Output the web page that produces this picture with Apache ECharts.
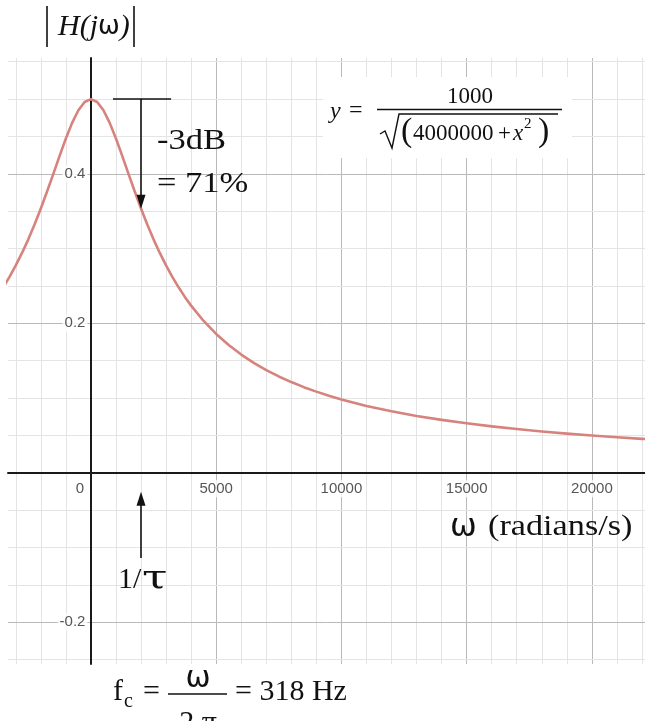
<!DOCTYPE html>
<html>
<head>
<meta charset="utf-8">
<title>|H(jω)| low-pass magnitude response</title>
<script src="https://cdn.jsdelivr.net/npm/echarts@6/dist/echarts.min.js"></script>
<style>
  html, body { margin: 0; padding: 0; background: #ffffff; }
  #chart { width: 645px; height: 721px; }
</style>
</head>
<body>
<div id="chart"></div>
<script>
// Magnitude response samples: angular frequency (rad/s) and |H(jω)|
const omega = [
  -3500, -3250, -3000, -2750, -2500, -2250, -2000, -1750, -1500, -1250, -1000, -750, -500, -250,
  0, 250, 500, 750, 1000, 1250, 1500, 1750, 2000, 2250, 2500, 2750, 3000, 3250, 3500, 3750,
  4000, 4500, 5000, 5500, 6000, 6500, 7000, 7500, 8000, 8500, 9000, 9500, 10000,
  11000, 12000, 13000, 14000, 15000, 16000, 17000, 18000, 19000, 20000, 21000, 22000, 23000
];
const magnitude = [
  0.2481, 0.2621, 0.2774, 0.2941, 0.3123, 0.3322, 0.3536, 0.3763, 0.4000, 0.4240, 0.4472, 0.4682, 0.4851, 0.4961,
  0.5000, 0.4961, 0.4851, 0.4682, 0.4472, 0.4240, 0.4000, 0.3763, 0.3536, 0.3322, 0.3123, 0.2941, 0.2774, 0.2621, 0.2481, 0.2353,
  0.2236, 0.2031, 0.1857, 0.1709, 0.1581, 0.1470, 0.1374, 0.1288, 0.1213, 0.1145, 0.1085, 0.1030, 0.0981,
  0.0894, 0.0822, 0.0760, 0.0707, 0.0661, 0.0620, 0.0584, 0.0552, 0.0523, 0.0498, 0.0474, 0.0453, 0.0433
];

// Tick labels shown on each axis
const xTickLabels = [0, 5000, 10000, 15000, 20000];
const yTickLabels = [-0.2, 0.2, 0.4];

// Cutoff point (1/τ) and the peak it is measured from
const cutoffOmega = 2000;
const peakMag = 0.5;
const cutoffMag = 0.3536;

// Visible window
const X_MIN = -3310, X_MAX = 22120;
const Y_MIN = -0.256, Y_MAX = 0.555;

// Grid spacing (minor / major)
const X_MINOR = 1000, X_MAJOR = 5000;
const Y_MINOR = 0.05, Y_MAJOR = 0.2;

const SERIF = '"Liberation Serif", "Times New Roman", serif';
const SANS = '"Liberation Sans", Arial, sans-serif';

function gridLines() {
  const items = [];
  const minor = { color: '#e4e4e4', width: 1, type: 'solid' };
  const major = { color: '#b9b9b9', width: 1, type: 'solid' };
  for (let v = Math.ceil(X_MIN / X_MINOR) * X_MINOR; v <= X_MAX; v += X_MINOR) {
    if (v === 0) continue;
    items.push({ xAxis: v, lineStyle: v % X_MAJOR === 0 ? major : minor });
  }
  for (let k = Math.ceil(Y_MIN / Y_MINOR); k * Y_MINOR <= Y_MAX; k++) {
    if (k === 0) continue;
    const v = +(k * Y_MINOR).toFixed(3);
    const isMajor = Math.abs(v / Y_MAJOR - Math.round(v / Y_MAJOR)) < 1e-6;
    items.push({ yAxis: v, lineStyle: isMajor ? major : minor });
  }
  return items;
}

const tickLabelStyle = {
  show: true, fontFamily: SANS, fontSize: 15, color: '#2a2a2a',
  backgroundColor: '#ffffff', padding: [1, 2]
};

function txt(x, y, text, font, extra) {
  return Object.assign({
    type: 'text', x: x, y: y, z: 20,
    style: { text: text, font: font, fill: '#111', align: 'left', verticalAlign: 'middle' }
  }, extra || {});
}
function ctxt(x, y, text, font) {
  return { type: 'text', x: x, y: y, z: 20,
           style: { text: text, font: font, fill: '#111', align: 'center', verticalAlign: 'middle' } };
}
function seg(x1, y1, x2, y2, w) {
  return { type: 'line', z: 20, shape: { x1: x1, y1: y1, x2: x2, y2: y2 },
           style: { stroke: '#111', lineWidth: w || 1.5 } };
}

const chart = echarts.init(document.getElementById('chart'), null, { renderer: 'canvas' });

const option = {
  animation: false,
  backgroundColor: '#ffffff',
  grid: { left: 8, right: 0, top: 58, bottom: 57, containLabel: false, outerBoundsMode: 'none' },
  xAxis: {
    type: 'value', min: X_MIN, max: X_MAX, z: 2,
    axisLine: { onZero: true, lineStyle: { color: '#1a1a1a', width: 2 } },
    axisTick: { show: false },
    splitLine: { show: false },
    axisLabel: { show: false }
  },
  yAxis: {
    type: 'value', min: Y_MIN, max: Y_MAX, z: 2,
    axisLine: { onZero: true, lineStyle: { color: '#1a1a1a', width: 2 } },
    axisTick: { show: false },
    splitLine: { show: false },
    axisLabel: { show: false }
  },
  series: [
    {
      // background grid
      type: 'line', data: [], silent: true, z: 1,
      markLine: {
        silent: true, z: 1, animation: false,
        symbol: ['none', 'none'],
        label: { show: false },
        emphasis: { disabled: true },
        data: gridLines()
      }
    },
    {
      // tick labels along the frequency axis, sitting under the zero line
      type: 'scatter', silent: true, z: 5,
      symbolSize: 1, itemStyle: { color: 'rgba(0,0,0,0)' },
      label: Object.assign({ position: 'bottom', distance: 7,
        formatter: function (p) { return String(p.value[0]); } }, tickLabelStyle),
      data: xTickLabels.map(function (v) {
        return v === 0 ? { value: [v, 0], label: { offset: [-11, 0] } } : { value: [v, 0] };
      })
    },
    {
      // tick labels along the magnitude axis, left of the zero line
      type: 'scatter', silent: true, z: 5,
      symbolSize: 1, itemStyle: { color: 'rgba(0,0,0,0)' },
      label: Object.assign({ position: 'left', distance: 3,
        formatter: function (p) { return String(p.value[1]); } }, tickLabelStyle),
      data: yTickLabels.map(function (v) { return [0, v]; })
    },
    {
      type: 'line', name: '|H(jω)|', z: 3,
      data: omega.map(function (w, i) { return [w, magnitude[i]]; }),
      showSymbol: false, smooth: false,
      lineStyle: { color: '#d6837e', width: 2.6, join: 'round' },
      markLine: {
        silent: true, z: 6, animation: false,
        label: { show: false },
        emphasis: { disabled: true },
        lineStyle: { color: '#111', width: 1.6, type: 'solid' },
        symbol: ['none', 'triangle'], symbolSize: [9, 14],
        data: [
          // -3 dB drop from the peak level to the curve at 1/τ
          [{ coord: [880, peakMag], symbol: 'none' }, { coord: [3200, peakMag], symbol: 'none' }],
          [{ coord: [cutoffOmega, peakMag], symbol: 'none' }, { coord: [cutoffOmega, cutoffMag + 0.009] }],
          // marker pointing at 1/τ on the frequency axis
          [{ coord: [cutoffOmega, -0.114], symbol: 'none' }, { coord: [cutoffOmega, -0.035] }]
        ]
      }
    }
  ],
  graphic: [
    // |H(jω)| heading
    seg(47, 6, 47, 47, 1.6),
    seg(134, 6, 134, 47, 1.6),
    {
      type: 'text', x: 58, y: 27, z: 20,
      style: {
        text: '{i|H(j}{w|ω}{i|)}', fill: '#111', align: 'left', verticalAlign: 'middle',
        rich: {
          i: { font: 'italic 30px ' + SERIF, fill: '#111' },
          w: { font: '26px "DejaVu Sans", sans-serif', fill: '#111' }
        }
      }
    },

    // -3dB note
    txt(157, 141, '-3dB', '30px ' + SERIF, { scaleX: 1.15 }),
    txt(157, 184, '= 71%', '30px ' + SERIF, { scaleX: 1.15 }),

    // transfer function box
    { type: 'rect', z: 15, shape: { x: 323, y: 77, width: 249, height: 81 }, style: { fill: '#fff' } },
    txt(330, 112, 'y', 'italic 24px ' + SERIF),
    txt(349, 111, '=', '24px ' + SERIF),
    ctxt(470, 97, '1000', '23px ' + SERIF),
    seg(377, 109.5, 562, 109.5, 1.3),
    { type: 'polyline', z: 20, shape: { points: [[380, 134], [385, 131], [392, 148], [399, 114], [558, 114]] },
      style: { stroke: '#111', lineWidth: 1.4, fill: null } },
    txt(401, 132, '(', '34px ' + SERIF),
    txt(413, 134, '4000000', '23px ' + SERIF),
    txt(498, 134, '+', '23px ' + SERIF),
    txt(513, 134, 'x', 'italic 23px ' + SERIF),
    txt(524, 124, '2', '15px ' + SERIF),
    txt(538, 132, ')', '34px ' + SERIF),

    // axis title
    txt(450, 528, 'ω', '32px "DejaVu Sans", sans-serif'),
    txt(488, 527, '(radians/s)', '29px ' + SERIF, { scaleX: 1.18 }),

    // 1/τ
    txt(118, 580, '1/', '30px ' + SERIF),
    txt(142, 580, 'τ', '34px "DejaVu Serif", serif', { scaleX: 1.35 }),

    // cutoff frequency in hertz
    txt(113, 692, 'f', '30px ' + SERIF),
    txt(124, 702, 'c', '20px ' + SERIF),
    txt(143, 692, '=', '30px ' + SERIF),
    ctxt(198, 679, 'ω', '30px "DejaVu Sans", sans-serif'),
    seg(168, 694, 227, 694, 1.5),
    ctxt(198, 723, '2 π', '30px ' + SERIF),
    txt(235, 692, '= 318 Hz', '30px ' + SERIF)
  ]
};

chart.setOption(option);
</script>
</body>
</html>
